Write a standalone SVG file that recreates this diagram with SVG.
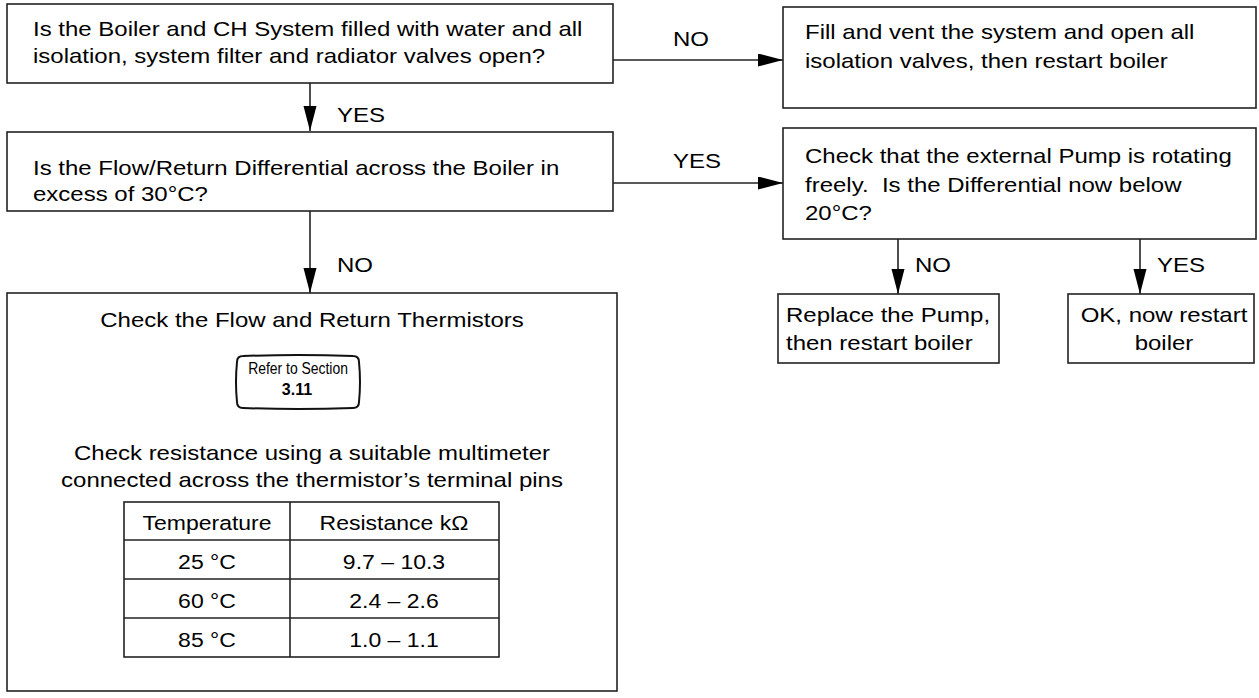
<svg xmlns="http://www.w3.org/2000/svg" width="1259" height="698" viewBox="0 0 1259 698">
<style>
.box{fill:#fff;stroke:#222;stroke-width:1.6}
.ln{fill:none;stroke:#222;stroke-width:1.6}
.t{font-family:"Liberation Sans",Arial,sans-serif;font-size:24px;fill:#000}
.m{text-anchor:middle}
.sm{font-family:"Liberation Sans",Arial,sans-serif;font-size:16px;fill:#000;text-anchor:middle}
.b{font-weight:bold}
</style>
<defs>
<marker id="ah" markerUnits="userSpaceOnUse" markerWidth="26" markerHeight="14" refX="25" refY="6.5" orient="auto">
<path d="M0,0 L25,6.5 L0,13 Z" fill="#000"/>
</marker>
</defs>
<rect width="1259" height="698" fill="#fff"/>

<g id="connectors">
<line class="ln" x1="310" y1="83" x2="310" y2="131" marker-end="url(#ah)"/>
<line class="ln" x1="613" y1="60" x2="783" y2="60" marker-end="url(#ah)"/>
<line class="ln" x1="613" y1="183" x2="783" y2="183" marker-end="url(#ah)"/>
<line class="ln" x1="310" y1="211" x2="310" y2="293" marker-end="url(#ah)"/>
<line class="ln" x1="898" y1="239" x2="898" y2="294" marker-end="url(#ah)"/>
<line class="ln" x1="1140" y1="239" x2="1140" y2="294" marker-end="url(#ah)"/>
<text class="t" transform="translate(337 122) scale(1 .85)">YES</text>
<text class="t" transform="translate(673 46) scale(1 .85)">NO</text>
<text class="t" transform="translate(673 168) scale(1 .85)">YES</text>
<text class="t" transform="translate(337 272) scale(1 .85)">NO</text>
<text class="t" transform="translate(915 272) scale(1 .85)">NO</text>
<text class="t" transform="translate(1157 272) scale(1 .85)">YES</text>
</g>

<g id="q1">
<rect class="box" x="7" y="4" width="606" height="79"/>
<text class="t" transform="translate(33 36) scale(1 .85)">Is the Boiler and CH System filled with water and all</text>
<text class="t" transform="translate(33 63) scale(1 .85)">isolation, system filter and radiator valves open?</text>
</g>

<g id="fill">
<rect class="box" x="783" y="7" width="473" height="101"/>
<text class="t" transform="translate(805 39) scale(1 .85)">Fill and vent the system and open all</text>
<text class="t" transform="translate(805 68) scale(1 .85)">isolation valves, then restart boiler</text>
</g>

<g id="q2">
<rect class="box" x="7" y="132" width="606" height="79"/>
<text class="t" transform="translate(33 175) scale(1 .85)">Is the Flow/Return Differential across the Boiler in</text>
<text class="t" transform="translate(33 201) scale(1 .85)">excess of 30°C?</text>
</g>

<g id="pump">
<rect class="box" x="783" y="128" width="473" height="111"/>
<text class="t" transform="translate(805 163) scale(1 .85)">Check that the external Pump is rotating</text>
<text class="t" transform="translate(805 192) scale(1 .85)">freely.&#160; Is the Differential now below</text>
<text class="t" transform="translate(805 220) scale(1 .85)">20°C?</text>
</g>

<g id="replace">
<rect class="box" x="778" y="294" width="221" height="69"/>
<text class="t" transform="translate(786 322) scale(1 .85)">Replace the Pump,</text>
<text class="t" transform="translate(786 350) scale(1 .85)">then restart boiler</text>
</g>

<g id="ok">
<rect class="box" x="1068" y="294" width="186" height="69"/>
<text class="t m" transform="translate(1164 322) scale(1 .85)">OK, now restart</text>
<text class="t m" transform="translate(1164 350) scale(1 .85)">boiler</text>
</g>

<g id="thermistors">
<rect class="box" x="7" y="293" width="610" height="398"/>
<text class="t m" transform="translate(312 327) scale(1 .85)">Check the Flow and Return Thermistors</text>
<path d="M243,356 Q298,354 353,356 Q359,356 359,362 Q361,382 359,402 Q359,408 353,408 Q298,410 243,408 Q237,408 237,402 Q235,382 237,362 Q237,356 243,356 Z" fill="#fff" stroke="#111" stroke-width="2"/>
<text class="sm" transform="translate(298 374) scale(.87 1)">Refer to Section</text>
<text class="sm b" x="297" y="395">3.11</text>
<text class="t m" transform="translate(312 460) scale(1 .85)">Check resistance using a suitable multimeter</text>
<text class="t m" transform="translate(312 487) scale(1 .85)">connected across the thermistor’s terminal pins</text>
<g id="table">
<rect class="ln" x="124" y="502" width="375" height="155"/>
<line class="ln" x1="290" y1="502" x2="290" y2="657"/>
<line class="ln" x1="124" y1="540" x2="499" y2="540"/>
<line class="ln" x1="124" y1="579" x2="499" y2="579"/>
<line class="ln" x1="124" y1="618" x2="499" y2="618"/>
<text class="t m" style="font-size:23px" transform="translate(207 530) scale(1 .88)">Temperature</text>
<text class="t m" style="font-size:23px" transform="translate(394 530) scale(1 .88)">Resistance kΩ</text>
<text class="t m" style="font-size:23px" transform="translate(207 569) scale(1 .88)">25 °C</text>
<text class="t m" style="font-size:23px" transform="translate(394 569) scale(1 .88)">9.7 – 10.3</text>
<text class="t m" style="font-size:23px" transform="translate(207 608) scale(1 .88)">60 °C</text>
<text class="t m" style="font-size:23px" transform="translate(394 608) scale(1 .88)">2.4 – 2.6</text>
<text class="t m" style="font-size:23px" transform="translate(207 647) scale(1 .88)">85 °C</text>
<text class="t m" style="font-size:23px" transform="translate(394 647) scale(1 .88)">1.0 – 1.1</text>
</g>
</g>
</svg>
